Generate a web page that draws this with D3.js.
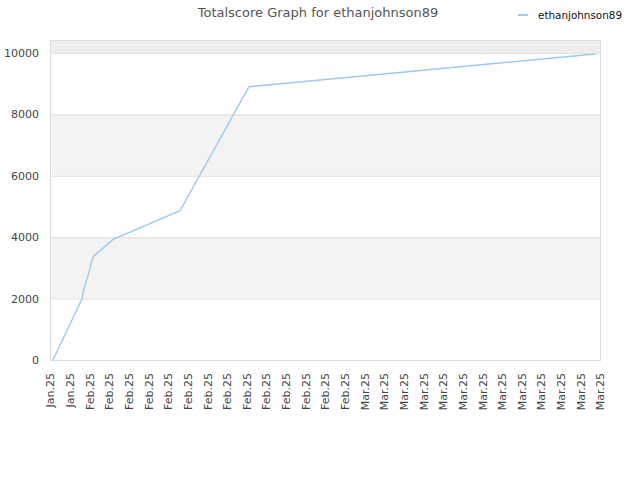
<!DOCTYPE html>
<html>
<head>
<meta charset="utf-8">
<script src="https://cdn.jsdelivr.net/npm/d3@7"></script>
<style>
  body { margin: 0; background: #fff; }
  svg { display: block; font-family: "DejaVu Sans", sans-serif; }
</style>
</head>
<body>
<div id="chart"></div>
<script>
// tick labels along the bottom, one per tick slot
var tickLabels = ["Jan.25", "Jan.25",
    "Feb.25", "Feb.25", "Feb.25", "Feb.25", "Feb.25", "Feb.25", "Feb.25",
    "Feb.25", "Feb.25", "Feb.25", "Feb.25", "Feb.25", "Feb.25", "Feb.25",
    "Mar.25", "Mar.25", "Mar.25", "Mar.25", "Mar.25", "Mar.25", "Mar.25",
    "Mar.25", "Mar.25", "Mar.25", "Mar.25", "Mar.25", "Mar.25"];

// series: position in tick units, total score
var seriesX = [0.15, 1.63, 1.73, 1.93, 2.19, 2.29, 3.21, 6.62, 10.13, 11.2, 27.75];
var seriesY = [0, 1990, 2340, 2740, 3350, 3420, 3925, 4860, 8900, 8965, 9965];
var seriesName = "ethanjohnson89";

var yTicks = [0, 2000, 4000, 6000, 8000, 10000];

(function (window, undefined) {
    var margin = {top: 40, right: 40, bottom: 120, left: 50},
        width = 640 - margin.left - margin.right,
        height = 480 - margin.top - margin.bottom;

    var svg = d3.select("#chart").append("svg")
        .attr("width", 640)
        .attr("height", 480);

    //title
    svg.append("text")
        .attr("x", 318)
        .attr("y", 17)
        .attr("text-anchor", "middle")
        .style("font-size", "13px")
        .style("fill", "#555")
        .text("Totalscore Graph for " + seriesName);

    //legend
    svg.append("line")
        .attr("x1", 518).attr("x2", 528)
        .attr("y1", 15).attr("y2", 15)
        .style("stroke", "#99c9f5")
        .style("stroke-width", 2);
    svg.append("text")
        .attr("x", 538)
        .attr("y", 19)
        .style("font-size", "10.4px")
        .style("fill", "#111")
        .text(seriesName);

    var g = svg.append("g")
        .attr("transform", "translate(" + margin.left + "," + margin.top + ")");

    var x = d3.scaleLinear()
        .domain([0, tickLabels.length - 1])
        .range([0, width]);

    var y = d3.scaleLinear()
        .domain([0, 10420])
        .range([height, 0]);

    //alternating bands
    var bands = [];
    for (var i = 0; i < yTicks.length; i++) {
        var lo = yTicks[i];
        var hi = i + 1 < yTicks.length ? yTicks[i + 1] : y.domain()[1];
        bands.push({lo: lo, hi: hi, idx: i});
    }
    g.selectAll("rect.band")
        .data(bands)
        .enter().append("rect")
        .attr("class", "band")
        .attr("x", 0)
        .attr("width", width)
        .attr("y", function(d){ return y(d.hi); })
        .attr("height", function(d){ return y(d.lo) - y(d.hi); })
        .attr("fill", function(d){
            if (d.idx == yTicks.length - 1) return "#eeeeee";
            return d.idx % 2 == 1 ? "#f3f3f3" : "#ffffff";
        });

    //grid lines
    g.selectAll("line.grid")
        .data(yTicks)
        .enter().append("line")
        .attr("class", "grid")
        .attr("x1", 0).attr("x2", width)
        .attr("y1", function(d){ return y(d) + 0.5; })
        .attr("y2", function(d){ return y(d) + 0.5; })
        .style("stroke", "#e0e0e0");

    //frame
    g.append("rect")
        .attr("x", 0.5).attr("y", 0.5)
        .attr("width", width).attr("height", height)
        .attr("fill", "none")
        .style("stroke", "#dddddd");

    //axes
    var yAxis = d3.axisLeft(y)
        .tickValues(yTicks)
        .tickFormat(d3.format("d"))
        .tickSize(0)
        .tickPadding(11);
    var yG = g.append("g").call(yAxis);
    yG.select(".domain").remove();
    yG.selectAll("text")
        .style("font-size", "11px")
        .style("fill", "#444")
        .style("font-family", "DejaVu Sans, sans-serif");

    var xAxis = d3.axisBottom(x)
        .tickValues(d3.range(tickLabels.length))
        .tickFormat(function(d){ return tickLabels[d]; })
        .tickSize(0);
    var xG = g.append("g")
        .attr("transform", "translate(0," + height + ")")
        .call(xAxis);
    xG.select(".domain").remove();
    xG.selectAll("text")
        .style("font-size", "11px")
        .style("fill", "#444")
        .style("font-family", "DejaVu Sans, sans-serif")
        .style("text-anchor", "end")
        .attr("dx", "-13")
        .attr("dy", "0.35em")
        .attr("y", 0)
        .attr("transform", "rotate(-90)");

    //the line
    var points = seriesX.map(function(v, i){ return {x: v, y: seriesY[i]}; });
    var line = d3.line()
        .x(function(d){ return x(d.x); })
        .y(function(d){ return y(d.y); });
    g.append("path")
        .datum(points)
        .attr("d", line)
        .attr("fill", "none")
        .style("stroke", "#99c9f5")
        .style("stroke-width", 1.4);
})(window);
</script>
</body>
</html>
